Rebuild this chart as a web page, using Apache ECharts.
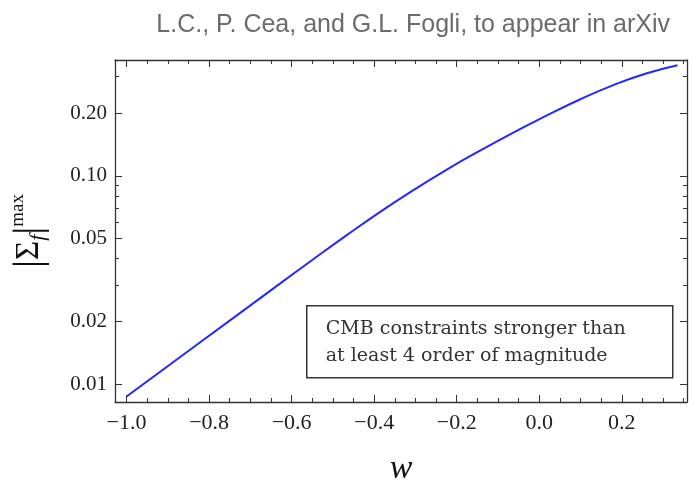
<!DOCTYPE html>
<html><head><meta charset="utf-8">
<script src="https://cdn.jsdelivr.net/npm/echarts@6/dist/echarts.min.js"></script>
<style>html,body{margin:0;padding:0;background:#fff}#c{width:693px;height:490px}</style>
</head><body><div id="c"></div>
<script>
// ---- data ----
const wValues  = [-1.0, -0.824, -0.63, -0.55, -0.469, -0.388, -0.307, -0.226, -0.145, -0.065, 0.016, 0.097, 0.178, 0.259, 0.335];
const sigmaMax = [0.00871, 0.01574, 0.0302, 0.03945, 0.05152, 0.06668, 0.08492, 0.1067, 0.1318, 0.1607, 0.1941, 0.2323, 0.2723, 0.3105, 0.3404];
const xMajorTicks = [-1.0, -0.8, -0.6, -0.4, -0.2, 0.0, 0.2];
const xMinorTicks = [-0.95, -0.9, -0.85, -0.75, -0.7, -0.65, -0.55, -0.5, -0.45, -0.35, -0.3, -0.25, -0.15, -0.1, -0.05, 0.05, 0.1, 0.15, 0.25, 0.3, 0.35];
const yMajorTicks = [0.01, 0.02, 0.05, 0.1, 0.2];
const yMinorTicks = [0.03, 0.04, 0.06, 0.07, 0.08, 0.09, 0.3];
const titleText = 'L.C., P. Cea, and G.L. Fogli, to appear in arXiv';
const noteText = 'CMB constraints stronger than\nat least 4 order of magnitude';

const X_MIN = -1.028, X_MAX = 0.358;
const Y_MIN = 0.0082, Y_MAX = 0.3605;
const FRAME = '#333';
const SERIF = 'Liberation Serif';

function xAxisDef(pos, ticks, len, showLine, showLabel) {
  return {
    type: 'value', position: pos, min: X_MIN, max: X_MAX,
    axisLine: { show: showLine, onZero: false, lineStyle: { color: FRAME, width: 1.3 } },
    axisTick: { show: true, inside: true, length: len, customValues: ticks, lineStyle: { color: FRAME, width: 1 } },
    axisLabel: { show: showLabel, customValues: ticks, margin: 10, color: '#222', fontFamily: SERIF, fontSize: 22,
      formatter: v => (v < -1e-9 ? '\u2212' : '') + Math.abs(v).toFixed(1) },
    splitLine: { show: false }
  };
}
function yAxisDef(pos, ticks, len, showLine, showLabel) {
  return {
    type: 'log', logBase: 10, position: pos, min: Y_MIN, max: Y_MAX,
    axisLine: { show: showLine, onZero: false, lineStyle: { color: FRAME, width: 1.3 } },
    axisTick: { show: true, inside: true, length: len, customValues: ticks, lineStyle: { color: FRAME, width: 1 } },
    axisLabel: { show: showLabel, customValues: ticks, margin: 8, color: '#222', fontFamily: SERIF, fontSize: 21,
      formatter: v => Number(v).toFixed(2) },
    splitLine: { show: false }
  };
}

const yMain = yAxisDef('left', yMajorTicks, 7, true, true);
yMain.name = '{bar||}{sig|\u03A3}{sub|f}{bar||}{sup|max}';
yMain.nameLocation = 'middle';
yMain.nameRotate = 90;
yMain.nameGap = 66;
yMain.nameTextStyle = {
  color: '#111', fontFamily: SERIF,
  rich: {
    bar: { fontSize: 40, fontFamily: SERIF, color: '#111' },
    sig: { fontSize: 33, fontFamily: SERIF, color: '#111' },
    sub: { fontSize: 22, fontFamily: SERIF, fontStyle: 'italic', color: '#111', verticalAlign: 'bottom' },
    sup: { fontSize: 19, fontFamily: SERIF, color: '#111', verticalAlign: 'top' }
  }
};

const xMain = xAxisDef('bottom', xMajorTicks, 7, true, true);
xMain.name = 'w';
xMain.nameLocation = 'middle';
xMain.nameGap = 50;
xMain.nameTextStyle = { fontFamily: SERIF, fontStyle: 'italic', fontSize: 34, color: '#111' };

const chart = echarts.init(document.getElementById('c'), null, { renderer: 'canvas' });
chart.setOption({
  animation: false,
  backgroundColor: '#fff',
  title: {
    text: titleText, right: 18, top: 8,
    textStyle: { fontFamily: 'Liberation Sans', fontWeight: 'normal', fontSize: 25, color: '#6b6b6b' }
  },
  grid: { left: 115, right: 6, top: 60, bottom: 88, outerBoundsMode: 'none', containLabel: false },
  xAxis: [
    xMain,
    xAxisDef('bottom', xMinorTicks, 4, false, false),
    xAxisDef('top', xMajorTicks, 7, true, false),
    xAxisDef('top', xMinorTicks, 4, false, false)
  ],
  yAxis: [
    yMain,
    yAxisDef('left', yMinorTicks, 4, false, false),
    yAxisDef('right', yMajorTicks, 7, true, false),
    yAxisDef('right', yMinorTicks, 4, false, false)
  ],
  series: [{
    type: 'line', xAxisIndex: 0, yAxisIndex: 0,
    data: wValues.map((w, i) => [w, sigmaMax[i]]),
    smooth: 0.5, showSymbol: false, symbol: 'none',
    lineStyle: { color: '#2626ff', width: 2 }
  }],
  graphic: [{
    type: 'group', left: 306, top: 305,
    children: [
      { type: 'rect', shape: { x: 0, y: 0, width: 366, height: 72 },
        style: { fill: '#fff', stroke: '#333', lineWidth: 1.5 } },
      { type: 'text', x: 19, y: 37,
        style: { text: noteText, font: '19px "DejaVu Serif"', fill: '#333', lineHeight: 27,
          verticalAlign: 'middle', align: 'left' } }
    ]
  }]
});
</script></body></html>
